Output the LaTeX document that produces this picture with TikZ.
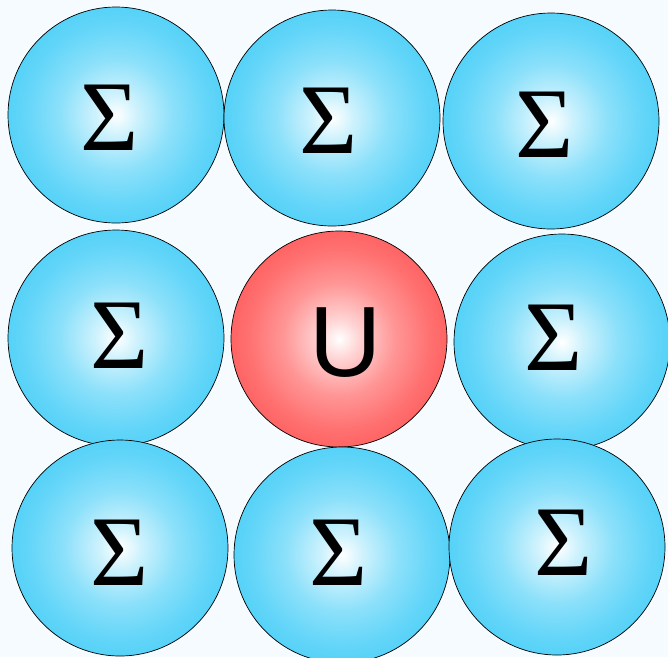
\documentclass[tikz,border=0pt]{standalone}
\usepackage{fontspec}
\setmainfont{Liberation Serif}
\newfontfamily\usans{Liberation Sans}
\definecolor{bgcol}{RGB}{245,251,255}
\definecolor{ballcyan}{RGB}{86,210,248}
\definecolor{ballred}{RGB}{255,100,100}
\pgfdeclareradialshading{blueball}{\pgfpoint{0bp}{0bp}}{color(0bp)=(white); color(5bp)=(ballcyan!30!white); color(13bp)=(ballcyan!68!white); color(21bp)=(ballcyan!92!white); color(25bp)=(ballcyan); color(50bp)=(ballcyan)}
\pgfdeclareradialshading{redball}{\pgfpoint{0bp}{0bp}}{color(0bp)=(white); color(5bp)=(ballred!30!white); color(13bp)=(ballred!68!white); color(21bp)=(ballred!92!white); color(25bp)=(ballred); color(50bp)=(ballred)}
\tikzset{
  sball/.style={circle, draw=black, line width=0.7pt, shading=blueball, minimum size=216pt, inner sep=0pt},
  uball/.style={circle, draw=black, line width=0.7pt, shading=redball, minimum size=216pt, inner sep=0pt},
  sigma/.style={inner sep=0pt, font=\fontsize{100}{100}\selectfont},
  ulab/.style={inner sep=0pt, font=\usans\fontsize{100}{100}\selectfont}
}
\begin{document}
\begin{tikzpicture}[x=1pt,y=-1pt]
\fill[bgcol] (0,0) rectangle (668,657);
\useasboundingbox (0,0) rectangle (668,657);
% row 1
\node[sball] (b11) at (116,115) {};
\node[sball] (b12) at (332,118) {};
\node[sball] (b13) at (551,121) {};
% row 2
\node[sball] (b21) at (116,338) {};
\node[uball] (b22) at (339,339) {};
\node[sball] (b23) at (562,342) {};
% row 3
\node[sball] (b31) at (120,548) {};
\node[sball] (b32) at (342,555) {};
\node[sball] (b33) at (557,547) {};
% labels
\node[sigma] (t11) at (110,118) {Σ};
\node[sigma] (t12) at (328.5,121) {Σ};
\node[sigma] (t13) at (544.5,124.5) {Σ};
\node[sigma] (t21) at (119.5,335.5) {Σ};
\node[ulab]  (t22) at (345.5,343) {U};
\node[sigma] (t23) at (554,338) {Σ};
\node[sigma] (t31) at (120,553) {Σ};
\node[sigma] (t32) at (338.5,553) {Σ};
\node[sigma] (t33) at (563.5,543) {Σ};
\end{tikzpicture}
\end{document}
